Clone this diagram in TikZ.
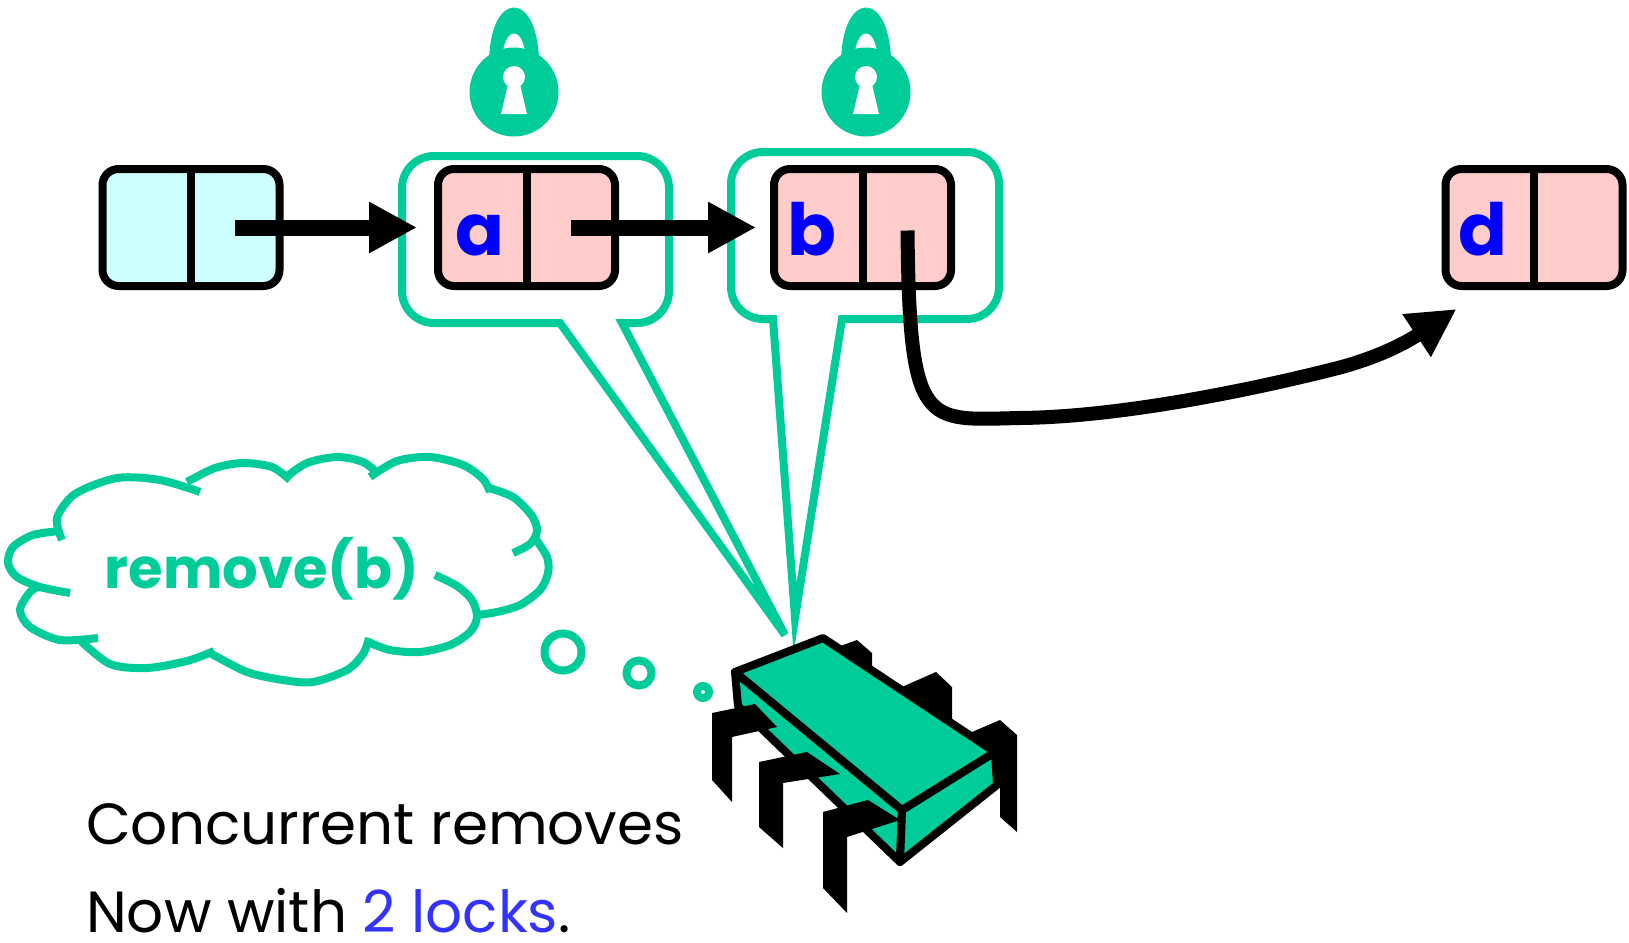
\documentclass[tikz,border=0pt]{standalone}
\usepackage{fontspec}
\setmainfont{Poppins}
\usetikzlibrary{arrows.meta,positioning}

\definecolor{lockgreen}{RGB}{0,204,153}
\definecolor{nodepink}{RGB}{255,204,204}
\definecolor{headcyan}{RGB}{204,255,255}
\definecolor{keyblue}{RGB}{0,0,255}
\definecolor{noteblue}{RGB}{51,51,255}

\tikzset{
  cell/.style={draw, line width=8pt, rounded corners=16pt, minimum width=177pt, minimum height=117pt, inner sep=0pt},
  key/.style={text=keyblue, font=\fontsize{72}{72}\selectfont\bfseries, anchor=base},
  ptr/.style={line width=16pt, -{Triangle[length=48pt,width=48pt]}},
  link/.style={line width=14pt, -{Triangle[length=48pt,width=48pt]}},
  held/.style={draw=lockgreen, line width=8pt},
  puff/.style={draw=lockgreen, line width=8pt},
  note/.style={font=\fontsize{58}{58}\selectfont, anchor=base west, inner sep=0pt},
  legpart/.style={fill=black},
  shell/.style={fill=lockgreen, draw=black, line width=8pt, line join=round},
  lock/.pic={
    \fill[lockgreen] (-25,-32) .. controls (-23,-102) and (23,-102) .. (25,-32) -- cycle;
    \fill[white] (-12,-30) .. controls (-11,-68) and (11,-68) .. (12,-30) -- cycle;
    \fill[lockgreen] (0,0) circle (44.5);
    \fill[white] (0,-15) circle (11);
    \fill[white] (-5,-12) -- (5,-12) -- (13,22) -- (-13,22) -- cycle;
  }
}

\begin{document}
\begin{tikzpicture}[x=1pt, y=-1pt]
  \useasboundingbox (0,0) rectangle (1629,942);

  % locks held on a and b
  \pic at (514,92) {lock};
  \pic at (866,92) {lock};
  \draw[held] (622,323) [rounded corners=32pt] -- (669,323) -- (669,156) -- (402,156) -- (402,323) [sharp corners] -- (560,323) -- (785,635) -- cycle;
  \draw[held] (842,319) [rounded corners=32pt] -- (999,319) -- (999,152) -- (731,152) -- (731,319) [sharp corners] -- (773,319) -- (795,618) -- cycle;

  % list cells
  \node[cell, fill=headcyan] (h) at (191,227.5) {};
  \node[cell, fill=nodepink] (a) at (526.5,227.5) {};
  \node[cell, fill=nodepink] (b) at (862.5,227.5) {};
  \node[cell, fill=nodepink] (d) at (1534,227.5) {};
  \foreach \n in {h,a,b,d}
    \draw[line width=8pt] (\n.north) -- (\n.south);

  \node[key] (ka) at (480,255) {a};
  \node[key] (kb) at (812,255) {b};
  \node[key] (kd) at (1483,255) {d};

  \draw[ptr] ([xshift=44pt]h.center) -- ([xshift=-17pt]a.west);
  \draw[ptr] ([xshift=44pt]a.center) -- ([xshift=-14pt]b.west);

  \coordinate (bn) at ([xshift=45pt,yshift=-3pt]b.center);
  \coordinate (dt) at ([shift={(15pt,-19pt)}]d.south west);
  \draw[link] (bn) .. controls +(2,200) and (925,420) .. (1020,418)
    .. controls (1120,417) and (1250,390) .. (1330,370)
    .. controls (1380,358) and (1410,340) .. (dt);

  % thought cloud
  \draw[puff] plot[smooth] coordinates {(62,540) (57,518) (75,494) (117,478) (160,480) (200,492)};
  \draw[puff] plot[smooth] coordinates {(187,482) (215,468) (243,463) (272,467) (290,480)};
  \draw[puff] plot[smooth] coordinates {(285,478) (307,463) (337,457) (363,462) (378,474)};
  \draw[puff] plot[smooth] coordinates {(370,477) (397,461) (430,457) (463,465) (483,479) (490,492)};
  \draw[puff] plot[smooth] coordinates {(486,487) (513,497) (532,516) (537,531) (530,544) (513,553)};
  \draw[puff] plot[smooth] coordinates {(535,538) (547,557) (548,573) (540,590) (520,605) (497,612) (477,615)};
  \draw[puff] plot[smooth] coordinates {(435,575) (457,586) (472,600) (477,617) (470,632) (450,645) (420,652) (390,650) (368,642)};
  \draw[puff] plot[smooth] coordinates {(369,638) (363,654) (347,670) (313,682) (283,680) (247,672) (210,653)};
  \draw[puff] plot[smooth] coordinates {(214,651) (187,661) (147,668) (110,664) (80,640)};
  \draw[puff] plot[smooth] coordinates {(98,638) (60,640) (30,627) (20,610) (30,592) (40,586)};
  \draw[puff] plot[smooth] coordinates {(70,593) (40,587) (17,577) (8,563) (13,547) (33,535) (60,531)};
  \node[text=lockgreen, font=\fontsize{56}{56}\selectfont\bfseries, anchor=base] (rm) at (262,588) {remove(b)};

  \draw[puff] (563,652) circle (18.5);
  \draw[puff] (639,673) circle (12.5);
  \draw[puff] (703,692) circle (6);

  % the thread
  \fill[legpart] (835,648) -- (857,640) -- (872,653) -- (872,670) -- (850,660) -- cycle;
  \fill[legpart] (895,690) -- (936,672) -- (952,687) -- (952,725) -- (915,705) -- cycle;
  \fill[legpart] (965,735) -- (1000,720) -- (1017,735) -- (1017,832) -- (1000,817) -- (1000,785) -- (975,770) -- cycle;
  \draw[shell] (735,672) -- (902,810) -- (900,862) -- (738,706) -- cycle;
  \draw[shell] (902,810) -- (995,752) -- (997,785) -- (900,862) -- cycle;
  \draw[shell] (735,672) -- (823,638) -- (995,752) -- (902,810) -- cycle;
  \fill[legpart] (712,713) -- (755,704) -- (777,727) -- (732,737) -- (732,802) -- (712,780) -- cycle;
  \fill[legpart] (759,762) -- (807,752) -- (840,774) -- (783,783) -- (783,848) -- (759,827) -- cycle;
  \fill[legpart] (823,812) -- (868,800) -- (900,820) -- (847,837) -- (847,913) -- (823,888) -- cycle;

  \node[note] (t1) at (86,844) {Concurrent removes};
  \node[note] (t2) at (86,932) {Now with \textcolor{noteblue}{2 locks}.};
\end{tikzpicture}
\end{document}
